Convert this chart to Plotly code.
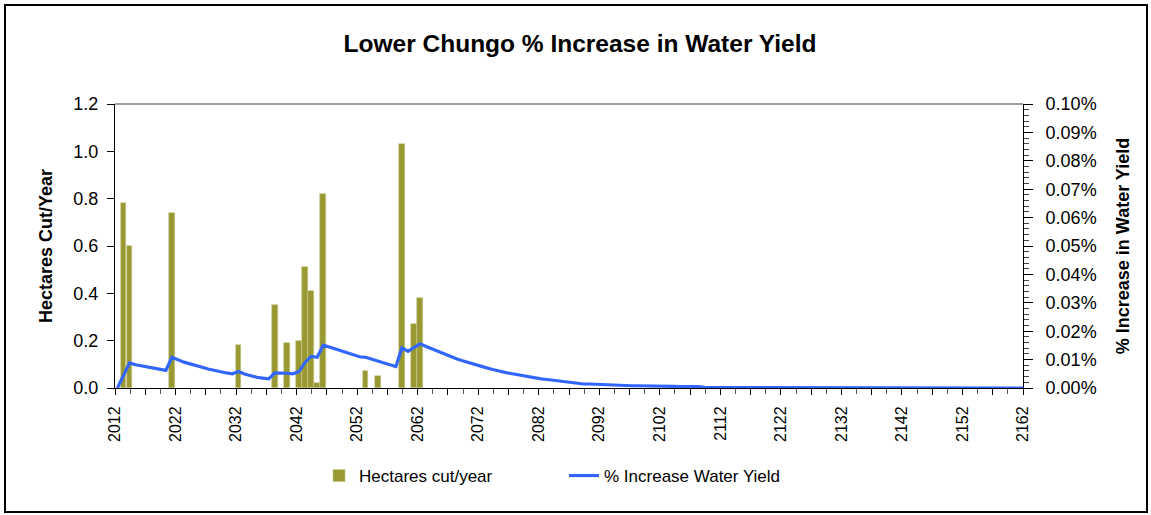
import plotly.graph_objects as go

# ---------------- data ----------------
years = list(range(2012, 2163))

cut_years = [2013, 2014, 2021, 2032, 2038, 2040, 2042, 2043, 2044, 2045,
             2046, 2053, 2055, 2059, 2061, 2062]
cut_hectares = [0.78, 0.60, 0.74, 0.18, 0.35, 0.19, 0.20, 0.51, 0.41, 0.02,
                0.82, 0.07, 0.05, 1.03, 0.27, 0.38]

# % increase in water yield (values in percent), one per year 2012..2162
water_yield_pct = [
    0.0000, 0.0047, 0.0088, 0.0082, 0.0078, 0.0074, 0.0069, 0.0067, 0.0062, 0.0108,
    0.0098, 0.0091, 0.0085, 0.0080, 0.0073, 0.0067, 0.0062, 0.0057, 0.0053, 0.0050,
    0.0058, 0.0049, 0.0043, 0.0038, 0.0035, 0.0032, 0.0053, 0.0053, 0.0052, 0.0050,
    0.0058, 0.0090, 0.0111, 0.0108, 0.0151, 0.0144, 0.0137, 0.0130, 0.0123, 0.0118,
    0.0110, 0.0108, 0.0101, 0.0095, 0.0089, 0.0082, 0.0076, 0.0141, 0.0129, 0.0142,
    0.0156, 0.0146, 0.0137, 0.0128, 0.0118, 0.0110, 0.0103, 0.0096, 0.0089, 0.0083,
    0.0076, 0.0071, 0.0065, 0.0059, 0.0055, 0.0051, 0.0047, 0.0043, 0.0040, 0.0035,
    0.0032, 0.0030, 0.0027, 0.0024, 0.0021, 0.0019, 0.0016, 0.0014, 0.0014, 0.0013,
    0.0012, 0.0010, 0.0009, 0.0009, 0.0009, 0.0008, 0.0008, 0.0008, 0.0006, 0.0006,
    0.0006, 0.0006, 0.0006, 0.0005, 0.0005, 0.0005, 0.0005, 0.0002, 0.0002, 0.0002,
    0.0002, 0.0001, 0.0001, 0.0001, 0.0001, 0.0001, 0.0000, 0.0000, 0.0000, 0.0000,
    0.0000, 0.0000, 0.0000, 0.0000, 0.0000, 0.0000, 0.0000, 0.0000, 0.0000, 0.0000,
    0.0000, 0.0000, 0.0000, 0.0000, 0.0000, 0.0000, 0.0000, 0.0000, 0.0000, 0.0000,
    0.0000, 0.0000, 0.0000, 0.0000, 0.0000, 0.0000, 0.0000, 0.0000, 0.0000, 0.0000,
    0.0000, 0.0000, 0.0000, 0.0000, 0.0000, 0.0000, 0.0000, 0.0000, 0.0000, 0.0000,
    0.0000,
]

tick_years = list(range(2012, 2163, 5))
tick_labels = [str(y) if (y - 2012) % 10 == 0 else "" for y in tick_years]

# ---------------- style ----------------
W, H = 1151, 515
L, R, T, B = 115, 128, 104, 127
PW, PH = W - L - R, H - T - B
X_SHIFT = 0.4          # Excel draws the series slightly right of the tick
FONT = "Arial, Liberation Sans, sans-serif"
BAR_COLOR = "#999933"
LINE_COLOR = "#3366FF"

fig = go.Figure()

fig.add_trace(go.Bar(
    x=[y + X_SHIFT for y in cut_years], y=cut_hectares,
    name="Hectares cut/year",
    marker=dict(color=BAR_COLOR, line=dict(width=0.6, color="#C8C88A")),
    width=0.95, yaxis="y",
))
fig.add_trace(go.Scatter(
    x=[y + X_SHIFT for y in years], y=[v / 100 for v in water_yield_pct],
    name="% Increase Water Yield", mode="lines",
    line=dict(color=LINE_COLOR, width=3.2), yaxis="y2",
))

def px_x(px):
    return (px - L) / PW

def px_y(py):
    return (H - B - py) / PH

fig.update_layout(
    width=W, height=H,
    margin=dict(l=L, r=R, t=T, b=B, autoexpand=False),
    paper_bgcolor="white", plot_bgcolor="white",
    font=dict(family=FONT, size=17, color="black"),
    title=dict(text="<b>Lower Chungo % Increase in Water Yield</b>",
               font=dict(size=24.5, family=FONT, color="black"),
               x=580 / W, xanchor="center", xref="container",
               y=1 - 43 / H, yanchor="middle", yref="container"),
    bargap=0,
    showlegend=True,
    legend=dict(orientation="h", x=px_x(564), xanchor="center",
                y=px_y(476), yanchor="middle", font=dict(size=17),
                entrywidth=200, bgcolor="rgba(0,0,0,0)"),
    xaxis=dict(range=[2012, 2162], tickmode="array", tickvals=tick_years,
               ticktext=tick_labels, tickangle=-90, ticks="outside",
               ticklen=6, tickcolor="black", showline=True, linecolor="black",
               linewidth=1, showgrid=False, zeroline=False,
               tickfont=dict(size=16), ticklabelstandoff=5,
               minor=dict(dtick=2.5, tick0=2012, ticks="outside", ticklen=5,
                          tickcolor="#555555", showgrid=False)),
    yaxis=dict(range=[0, 1.2], dtick=0.2, tickformat=".1f", ticks="outside",
               ticklen=7, tickcolor="black", showline=True, linecolor="black",
               showgrid=False, zeroline=False, ticklabelstandoff=5,
               tickfont=dict(size=18),
               title=dict(text="<b>Hectares Cut/Year</b>", font=dict(size=18),
                          standoff=16)),
    yaxis2=dict(range=[0, 0.001], dtick=0.0001, tickformat=".2%",
                overlaying="y", side="right", ticks="outside", ticklen=9,
                tickcolor="black", showline=True, linecolor="black",
                showgrid=False, zeroline=False, ticklabelstandoff=9,
                tickfont=dict(size=18),
                minor=dict(dtick=0.00002, ticks="outside", ticklen=5,
                           tickcolor="#444444", showgrid=False),
                title=dict(text="<b>% Increase in Water Yield</b>",
                           font=dict(size=18), standoff=20)),
    shapes=[
        dict(type="line", xref="paper", yref="paper", x0=0, x1=1, y0=1, y1=1,
             line=dict(color="#808080", width=1.5)),
        dict(type="rect", xref="paper", yref="paper",
             x0=px_x(5), x1=px_x(1147), y0=px_y(512), y1=px_y(5),
             line=dict(color="black", width=2), fillcolor="rgba(0,0,0,0)",
             layer="below"),
    ],
)

fig.write_html("out.html",
               config={"displayModeBar": False},
               post_script="document.body.style.margin='0';"
                           "document.body.style.overflow='hidden';")
